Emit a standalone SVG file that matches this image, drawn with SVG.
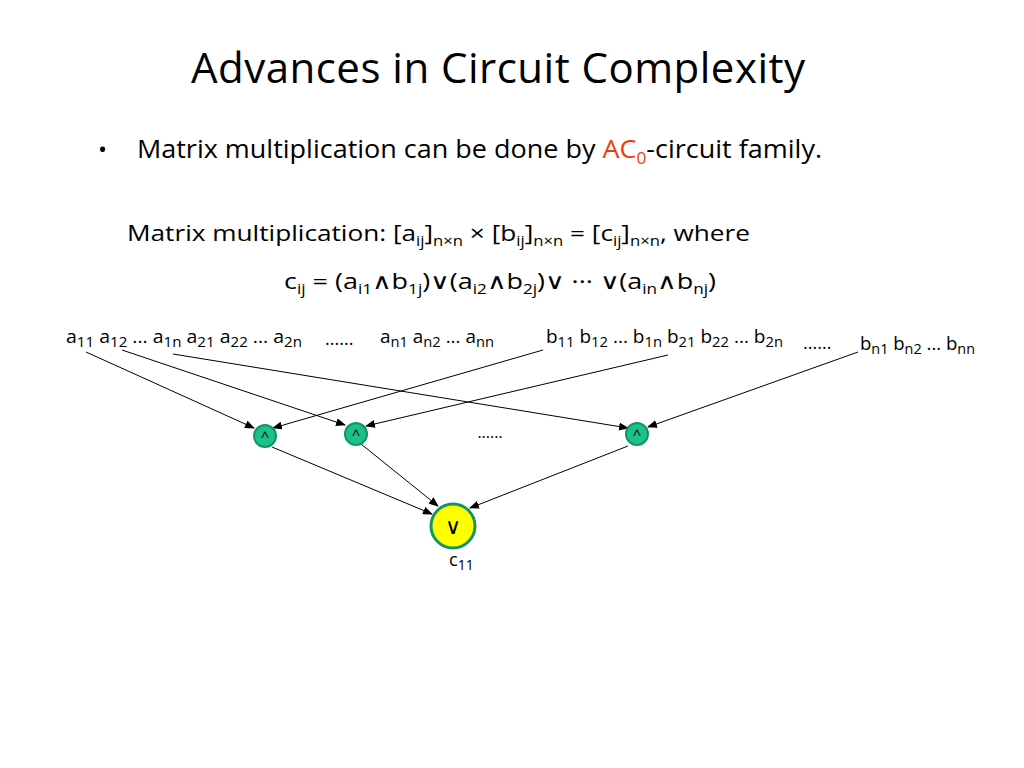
<svg xmlns="http://www.w3.org/2000/svg" width="1024" height="768" viewBox="0 0 1024 768">
<style>
text{font-family:"Open Sans","Liberation Sans",sans-serif;fill:#000}
.s{font-size:14px}
.lbl{font-size:18px}
.e{stroke:#000;stroke-width:1;fill:none;marker-end:url(#ah)}
.and{fill:#1dbf8a;stroke:#129468;stroke-width:2}
</style>
<defs><marker id="ah" markerWidth="10" markerHeight="8" refX="9" refY="4" orient="auto" markerUnits="userSpaceOnUse"><path d="M0,0 L10,4 L0,8 z" fill="#000"/></marker></defs>
<rect width="1024" height="768" fill="#fff"/>
<text x="498" y="83" font-size="42" text-anchor="middle" textLength="614">Advances in Circuit Complexity</text>
<text x="98" y="158" font-size="24">•</text>
<text x="137" y="158" font-size="25" textLength="685" lengthAdjust="spacingAndGlyphs">Matrix multiplication can be done by <tspan fill="#f03c0f">AC<tspan font-size="16" dy="6">0</tspan></tspan><tspan dy="-6">-circuit family.</tspan></text>
<text x="127" y="241" font-size="22" textLength="623" lengthAdjust="spacingAndGlyphs">Matrix multiplication:  [a<tspan class="s" dy="5">ij</tspan><tspan dy="-5">]</tspan><tspan class="s" dy="5">n×n</tspan><tspan dy="-5"> × [b</tspan><tspan class="s" dy="5">ij</tspan><tspan dy="-5">]</tspan><tspan class="s" dy="5">n×n</tspan><tspan dy="-5"> = [c</tspan><tspan class="s" dy="5">ij</tspan><tspan dy="-5">]</tspan><tspan class="s" dy="5">n×n</tspan><tspan dy="-5">, where</tspan></text>
<text x="284" y="289" font-size="22" textLength="432" lengthAdjust="spacingAndGlyphs">c<tspan class="s" dy="5">ij</tspan><tspan dy="-5"> = (a</tspan><tspan class="s" dy="5">i1</tspan><tspan dy="-5">∧b</tspan><tspan class="s" dy="5">1j</tspan><tspan dy="-5">)∨(a</tspan><tspan class="s" dy="5">i2</tspan><tspan dy="-5">∧b</tspan><tspan class="s" dy="5">2j</tspan><tspan dy="-5">)∨ ··· ∨(a</tspan><tspan class="s" dy="5">in</tspan><tspan dy="-5">∧b</tspan><tspan class="s" dy="5">nj</tspan><tspan dy="-5">)</tspan></text>
<g id="a-row"><text x="66" y="343" class="lbl" textLength="236" lengthAdjust="spacingAndGlyphs">a<tspan class="s" dy="4">11</tspan><tspan dy="-4"> a</tspan><tspan class="s" dy="4">12</tspan><tspan dy="-4"> ... a</tspan><tspan class="s" dy="4">1n</tspan><tspan dy="-4"> a</tspan><tspan class="s" dy="4">21</tspan><tspan dy="-4"> a</tspan><tspan class="s" dy="4">22</tspan><tspan dy="-4"> ... a</tspan><tspan class="s" dy="4">2n</tspan></text>
<text x="325" y="345" class="lbl">......</text>
<text x="380" y="343" class="lbl" textLength="114" lengthAdjust="spacingAndGlyphs">a<tspan class="s" dy="4">n1</tspan><tspan dy="-4"> a</tspan><tspan class="s" dy="4">n2</tspan><tspan dy="-4"> ... a</tspan><tspan class="s" dy="4">nn</tspan></text></g>
<g id="b-row"><text x="546" y="343" class="lbl" textLength="237" lengthAdjust="spacingAndGlyphs">b<tspan class="s" dy="4">11</tspan><tspan dy="-4"> b</tspan><tspan class="s" dy="4">12</tspan><tspan dy="-4"> ... b</tspan><tspan class="s" dy="4">1n</tspan><tspan dy="-4"> b</tspan><tspan class="s" dy="4">21</tspan><tspan dy="-4"> b</tspan><tspan class="s" dy="4">22</tspan><tspan dy="-4"> ... b</tspan><tspan class="s" dy="4">2n</tspan></text>
<text x="803" y="349" class="lbl">......</text>
<text x="860" y="350" class="lbl" textLength="115" lengthAdjust="spacingAndGlyphs">b<tspan class="s" dy="4">n1</tspan><tspan dy="-4"> b</tspan><tspan class="s" dy="4">n2</tspan><tspan dy="-4"> ... b</tspan><tspan class="s" dy="4">nn</tspan></text></g>
<g id="connectors">
<line class="e" x1="86" y1="352" x2="254" y2="428"/>
<line class="e" x1="122" y1="350" x2="345" y2="425"/>
<line class="e" x1="173" y1="354" x2="628" y2="428"/>
<line class="e" x1="543" y1="350" x2="273" y2="428"/>
<line class="e" x1="668" y1="355" x2="366" y2="426"/>
<line class="e" x1="858" y1="352" x2="648" y2="427"/>
<line class="e" x1="272" y1="447" x2="432" y2="514"/>
<line class="e" x1="361" y1="444" x2="438" y2="506"/>
<line class="e" x1="628" y1="446" x2="470" y2="508"/>
</g>
<g id="and1"><circle class="and" cx="265" cy="436" r="11"/><text x="265" y="442" font-size="15" text-anchor="middle">^</text></g>
<g id="and2"><circle class="and" cx="356" cy="434" r="11"/><text x="356" y="440" font-size="15" text-anchor="middle">^</text></g>
<text x="490" y="438" font-size="16" text-anchor="middle">......</text>
<g id="and3"><circle class="and" cx="637" cy="434" r="11"/><text x="637" y="440" font-size="15" text-anchor="middle">^</text></g>
<g id="or"><circle cx="453" cy="526" r="22" fill="#ffff00" stroke="#129468" stroke-width="3"/><text x="453" y="534" font-size="22" text-anchor="middle">∨</text>
<text x="449" y="566" font-size="18">c<tspan class="s" dy="4">11</tspan></text></g>
</svg>
